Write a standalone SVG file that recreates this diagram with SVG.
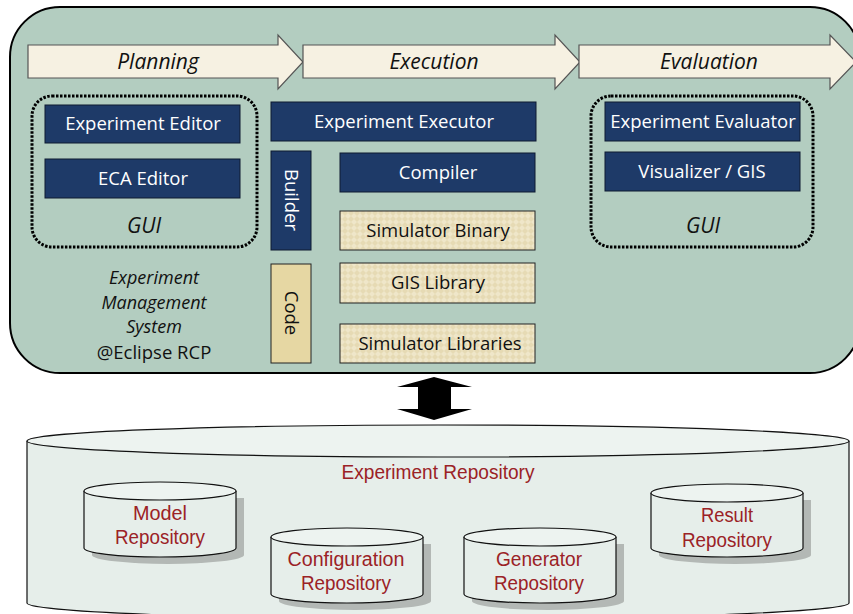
<svg xmlns="http://www.w3.org/2000/svg" width="853" height="614" viewBox="0 0 853 614">
<defs>
<pattern id="chk" width="6" height="6" patternUnits="userSpaceOnUse">
<rect width="6" height="6" fill="#efe6c9"/>
<path d="M0 3 L3 0 L6 3 L3 6 Z" fill="#e6dab4"/>
</pattern>
<style>
.blue{fill:#1e3a68;stroke:#0e1a30;stroke-width:1}
.wt{font-family:"Open Sans","Noto Sans",sans-serif;font-size:18.5px;fill:#ffffff;text-anchor:middle}
.bt{font-family:"Open Sans","Noto Sans",sans-serif;font-size:18.5px;fill:#111;text-anchor:middle}
.it{font-family:"Open Sans","Noto Sans",sans-serif;font-style:italic;font-size:21px;fill:#111;text-anchor:middle}
.ems{font-family:"Open Sans","Noto Sans",sans-serif;font-style:italic;font-size:18px;fill:#111;text-anchor:middle}
.phase{fill:#f6f1e2;stroke:#555;stroke-width:1.2}
.dot{fill:none;stroke:#000;stroke-width:3;stroke-dasharray:2.5 1.5}
.pat{fill:url(#chk);stroke:#222;stroke-width:1}
.cyl{fill:#e6eeea;stroke:#111;stroke-width:1.2}
.cyltop{fill:#edf3f0;stroke:#111;stroke-width:1.2}
.shadow{fill:#b3b8b5}
.rt{font-family:"Liberation Sans Narrow","Liberation Sans",sans-serif;font-size:20px;fill:#9b2226;text-anchor:middle}
</style>
</defs>

<g id="ems-frame">
<path d="M60 7 H810 A50 50 0 0 1 860 57 V323 A50 50 0 0 1 810 373 H60 A50 50 0 0 1 10 323 V57 A50 50 0 0 1 60 7 Z" fill="#b3cdc0" stroke="#000" stroke-width="2"/>
</g>

<g id="phase-planning">
<path class="phase" d="M28 45 H278 V35 L303 62 L278 89 V78 H28 Z"/>
<text class="it" x="158" y="69">Planning</text>
</g>
<g id="phase-execution">
<path class="phase" d="M303 45 H555 V35 L580 62 L555 89 V78 H303 Z"/>
<text class="it" x="434" y="69">Execution</text>
</g>
<g id="phase-evaluation">
<path class="phase" d="M579 45 H830 V35 L856 62 L830 89 V78 H579 Z"/>
<text class="it" x="709" y="69">Evaluation</text>
</g>

<g id="gui-left">
<rect class="dot" x="32" y="96" width="225" height="151" rx="20"/>
<text class="it" x="144" y="233">GUI</text>
</g>
<g id="experiment-editor">
<rect class="blue" x="45" y="105" width="195" height="38"/>
<text class="wt" x="143" y="130">Experiment Editor</text>
</g>
<g id="eca-editor">
<rect class="blue" x="45" y="159" width="195" height="39"/>
<text class="wt" x="143" y="185">ECA Editor</text>
</g>

<g id="experiment-executor">
<rect class="blue" x="271" y="102" width="265" height="39"/>
<text class="wt" x="404" y="128">Experiment Executor</text>
</g>
<g id="builder">
<rect class="blue" x="271" y="151" width="40" height="99"/>
<text class="wt" x="291" y="206" transform="rotate(90 291 200)">Builder</text>
</g>
<g id="compiler">
<rect class="blue" x="340" y="153" width="195" height="39"/>
<text class="wt" x="438" y="179">Compiler</text>
</g>
<g id="simulator-binary">
<rect class="pat" x="340" y="211" width="195" height="39"/>
<text class="bt" x="438" y="237">Simulator Binary</text>
</g>
<g id="code">
<rect x="271" y="264" width="40" height="99" fill="#e6d7a3" stroke="#222" stroke-width="1"/>
<text class="bt" x="291" y="319" transform="rotate(90 291 313)">Code</text>
</g>
<g id="gis-library">
<rect class="pat" x="340" y="263" width="195" height="40"/>
<text class="bt" x="438" y="289">GIS Library</text>
</g>
<g id="simulator-libraries">
<rect class="pat" x="340" y="324" width="195" height="39"/>
<text class="bt" x="440" y="350">Simulator Libraries</text>
</g>

<g id="ems-label">
<text class="ems" x="154" y="284">Experiment</text>
<text class="ems" x="154" y="309">Management</text>
<text class="ems" x="154" y="333">System</text>
<text class="bt" x="154" y="359">@Eclipse RCP</text>
</g>

<g id="gui-right">
<rect class="dot" x="591" y="96" width="222" height="151" rx="20"/>
<text class="it" x="703" y="233">GUI</text>
</g>
<g id="experiment-evaluator">
<rect class="blue" x="605" y="102" width="195" height="39"/>
<text class="wt" x="703" y="128">Experiment Evaluator</text>
</g>
<g id="visualizer-gis">
<rect class="blue" x="605" y="152" width="195" height="39"/>
<text class="wt" x="702" y="178">Visualizer / GIS</text>
</g>

<g id="connectors">
<path d="M434 377 L472 387 H451 V409 H472 L434 420 L397 409 H418 V387 H397 Z" fill="#000"/>
</g>

<g id="experiment-repository">
<path class="cyl" d="M27 441 V603 A411 16 0 0 0 849 603 V441"/>
<ellipse class="cyltop" cx="438" cy="441" rx="411" ry="16"/>
<text class="rt" x="438" y="479" textLength="193" lengthAdjust="spacingAndGlyphs">Experiment Repository</text>
</g>

<g id="model-repository">
<path class="shadow" d="M92 498 V555 A76 9 0 0 0 244 555 V498 Z"/>
<path class="cyl" d="M84 491 V548 A76 9 0 0 0 236 548 V491"/>
<ellipse class="cyltop" cx="160" cy="491" rx="76" ry="9"/>
<text class="rt" x="160" y="520" textLength="54" lengthAdjust="spacingAndGlyphs">Model</text>
<text class="rt" x="160" y="544" textLength="90" lengthAdjust="spacingAndGlyphs">Repository</text>
</g>

<g id="configuration-repository">
<path class="shadow" d="M279 544 V601 A76 9 0 0 0 431 601 V544 Z"/>
<path class="cyl" d="M271 537 V594 A76 9 0 0 0 423 594 V537"/>
<ellipse class="cyltop" cx="347" cy="537" rx="76" ry="9"/>
<text class="rt" x="346" y="566" textLength="117" lengthAdjust="spacingAndGlyphs">Configuration</text>
<text class="rt" x="346" y="590" textLength="90" lengthAdjust="spacingAndGlyphs">Repository</text>
</g>

<g id="generator-repository">
<path class="shadow" d="M472 544 V601 A76 9 0 0 0 624 601 V544 Z"/>
<path class="cyl" d="M464 537 V594 A76 9 0 0 0 616 594 V537"/>
<ellipse class="cyltop" cx="540" cy="537" rx="76" ry="9"/>
<text class="rt" x="539" y="566" textLength="86" lengthAdjust="spacingAndGlyphs">Generator</text>
<text class="rt" x="539" y="590" textLength="90" lengthAdjust="spacingAndGlyphs">Repository</text>
</g>

<g id="result-repository">
<path class="shadow" d="M659 500 V555 A76 9 0 0 0 811 555 V500 Z"/>
<path class="cyl" d="M651 493 V548 A76 9 0 0 0 803 548 V493"/>
<ellipse class="cyltop" cx="727" cy="493" rx="76" ry="9"/>
<text class="rt" x="727" y="522" textLength="52" lengthAdjust="spacingAndGlyphs">Result</text>
<text class="rt" x="727" y="547" textLength="90" lengthAdjust="spacingAndGlyphs">Repository</text>
</g>
</svg>
